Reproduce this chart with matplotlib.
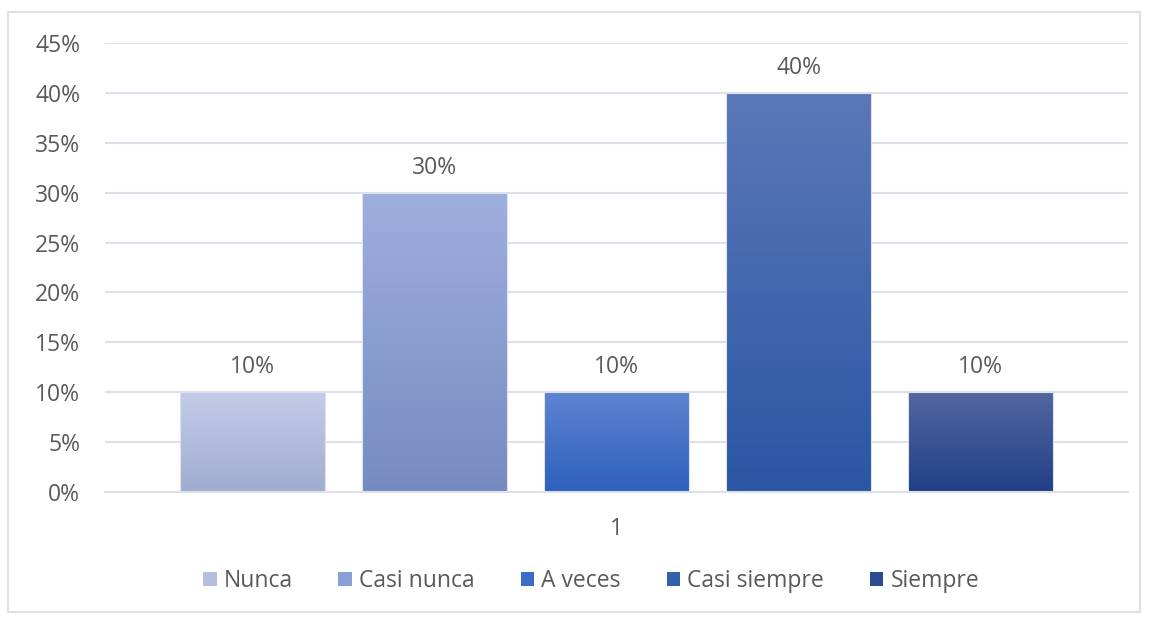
import numpy as np
import matplotlib
matplotlib.use("Agg")
import matplotlib.pyplot as plt
from matplotlib.colors import LinearSegmentedColormap
from matplotlib.patches import Rectangle
from matplotlib.ticker import FuncFormatter

categories = ["Nunca", "Casi nunca", "A veces", "Casi siempre", "Siempre"]
values = [0.10, 0.30, 0.10, 0.40, 0.10]
group_label = "1"
# gradient colours per bar (top, bottom)
top_colors = ["#C4CCE8", "#9DAFDD", "#5E84D0", "#5B78B8", "#53669F"]
bottom_colors = ["#A0ACD0", "#778BC2", "#2D60BD", "#2A56A4", "#213F88"]
legend_colors = ["#B3BEE0", "#8A9FD6", "#3C6CC9", "#3261B0", "#2B4A92"]

text_color = "#595959"
grid_color = "#DCE0E8"

plt.rcParams["font.family"] = ["Open Sans", "DejaVu Sans"]

fig = plt.figure(figsize=(11.5, 6.17), dpi=100)
ax = fig.add_axes([105 / 1150, 1 - 492 / 617, 1023 / 1150, 449 / 617])

n = len(categories)
offsets = np.arange(n) - (n - 1) / 2
width = 0.80
gradient = np.linspace(0, 1, 256).reshape(-1, 1)

for i, (name, val) in enumerate(zip(categories, values)):
    x0 = offsets[i] - width / 2
    cmap = LinearSegmentedColormap.from_list(name, [bottom_colors[i], top_colors[i]])
    img = ax.imshow(gradient, cmap=cmap, origin="lower", aspect="auto",
                    extent=(x0, x0 + width, 0, val), zorder=2)
    rect = Rectangle((x0, 0), width, val, facecolor="none",
                     edgecolor="#DCE2F2", linewidth=0.8, zorder=3)
    ax.add_patch(rect)
    img.set_clip_path(rect)
    ax.annotate(f"{val:.0%}", (offsets[i], val), xytext=(0, 18),
                textcoords="offset points", ha="center", va="center",
                fontsize=16.5, color=text_color)

ax.set_xlim(-2.81, 2.81)
ax.set_ylim(0, 0.45)
ax.set_yticks(np.arange(0, 0.46, 0.05))
ax.yaxis.set_major_formatter(FuncFormatter(lambda v, p: f"{v:.0%}"))
ax.set_xticks([0])
ax.set_xticklabels([group_label])
ax.tick_params(axis="both", length=0, labelsize=16.5, labelcolor=text_color)
ax.tick_params(axis="y", pad=18)
ax.tick_params(axis="x", pad=18)
ax.grid(axis="y", color=grid_color, linewidth=1.5, zorder=0)
ax.set_axisbelow(True)
for side in ["top", "right", "left"]:
    ax.spines[side].set_visible(False)
ax.spines["bottom"].set_color(grid_color)
ax.spines["bottom"].set_linewidth(1.5)

handles = [Rectangle((0, 0), 1, 1, facecolor=c, edgecolor="none") for c in legend_colors]
fig.legend(handles, categories, loc="center", bbox_to_anchor=(591 / 1150, 1 - 581 / 617),
           ncol=n, frameon=False, fontsize=16.5, labelcolor=text_color,
           handlelength=0.6, handleheight=0.6, handletextpad=0.3, columnspacing=2.0)

fig.patches.append(Rectangle((8 / 1150, 1 - 612 / 617), 1132 / 1150, 600 / 617,
                             transform=fig.transFigure, facecolor="none",
                             edgecolor=grid_color, linewidth=1.5))

fig.savefig("out.png", dpi=100)
